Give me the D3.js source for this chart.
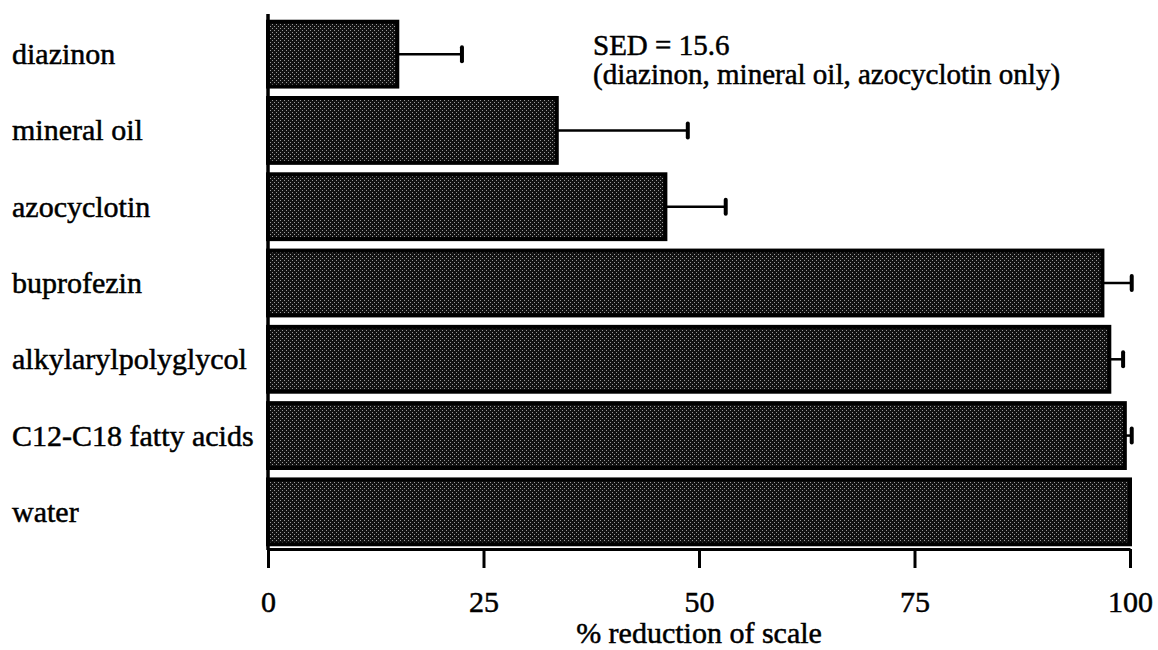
<!DOCTYPE html>
<html>
<head>
<meta charset="utf-8">
<script src="https://cdn.jsdelivr.net/npm/d3@7"></script>
<style>
  body { margin: 0; background: #fff; }
</style>
</head>
<body>
<div id="chart"></div>
<script>
const treatments = ['diazinon', 'mineral oil', 'azocyclotin', 'buprofezin',
                    'alkylarylpolyglycol', 'C12-C18 fatty acids', 'water'];
const reduction = [15.0, 33.5, 46.1, 96.8, 97.6, 99.4, 100];
const errors = [7.5, 15.2, 7.0, 3.4, 1.6, 0.8, 0];
const xTicks = [0, 25, 50, 75, 100];
const xTitle = '% reduction of scale';
const noteLines = ['SED = 15.6', '(diazinon, mineral oil, azocyclotin only)'];

const width = 1158;
const height = 650;
const serif = "'Liberation Serif', 'Times New Roman', Times, serif";

const rows = treatments.map((t, i) => ({name: t, value: reduction[i], err: errors[i]}));

const xScale = d3.scaleLinear()
                  .domain([0, 100])
                  .range([268, 1130]);

const yScale = d3.scaleBand()
                  .domain(treatments)
                  .range([16, 550])
                  .paddingInner(0.15)
                  .paddingOuter(0.075);

const svg = d3.select('#chart')
              .append('svg')
              .attr('width', width)
              .attr('height', height);

// halftone stipple like the printed bars
const pat = svg.append('defs')
  .append('pattern')
    .attr('id', 'stipple')
    .attr('patternUnits', 'userSpaceOnUse')
    .attr('width', 4)
    .attr('height', 4);
pat.append('rect').attr('width', 4).attr('height', 4).attr('fill', '#121212');
pat.append('rect').attr('x', 0).attr('y', 0).attr('width', 1).attr('height', 1).attr('fill', '#9a9a9a');
pat.append('rect').attr('x', 2).attr('y', 2).attr('width', 1).attr('height', 1).attr('fill', '#9a9a9a');

svg.selectAll('.bar')
  .data(rows)
  .enter().append('rect')
    .attr('class', 'bar')
    .attr('x', xScale(0))
    .attr('y', d => yScale(d.name))
    .attr('width', d => xScale(d.value) - xScale(0))
    .attr('height', yScale.bandwidth())
    .attr('fill', 'url(#stipple)')
    .attr('stroke', '#000')
    .attr('stroke-width', 4);

// error bars (one sided)
const errRows = rows.filter(d => d.err > 0);
const cy = d => yScale(d.name) + yScale.bandwidth() / 2;

svg.selectAll('.errline')
  .data(errRows)
  .enter().append('line')
    .attr('class', 'errline')
    .attr('x1', d => xScale(d.value))
    .attr('x2', d => xScale(d.value + d.err))
    .attr('y1', cy)
    .attr('y2', cy)
    .attr('stroke', '#000')
    .attr('stroke-width', 2.5);

svg.selectAll('.errcap')
  .data(errRows)
  .enter().append('line')
    .attr('class', 'errcap')
    .attr('x1', d => xScale(d.value + d.err))
    .attr('x2', d => xScale(d.value + d.err))
    .attr('y1', d => cy(d) - 7)
    .attr('y2', d => cy(d) + 7)
    .attr('stroke', '#000')
    .attr('stroke-width', 4)
    .attr('stroke-linecap', 'round');

// axes
const xAxis = svg.append('g')
  .attr('class', 'x axis')
  .attr('transform', 'translate(0,549)')
  .call(d3.axisBottom(xScale).tickValues(xTicks).tickSize(19).tickSizeOuter(0));
xAxis.attr('font-family', serif).attr('font-size', 30);
xAxis.select('.domain').attr('stroke-width', 3);
xAxis.selectAll('.tick line').attr('stroke-width', 3);
xAxis.selectAll('.tick text')
  .attr('dy', null)
  .attr('y', 63)
  .attr('stroke', '#000')
  .attr('stroke-width', 0.5);

const yAxis = svg.append('g')
  .attr('class', 'y axis')
  .attr('transform', 'translate(268,0)')
  .call(d3.axisLeft(yScale).tickSize(0).tickSizeOuter(0).tickFormat(''));
yAxis.select('.domain').attr('stroke-width', 3.5).attr('d', 'M0,14V550');

const txt = sel => sel
  .attr('font-family', serif)
  .attr('font-size', 30)
  .attr('fill', '#000')
  .attr('stroke', '#000')
  .attr('stroke-width', 0.5);

svg.selectAll('.label')
  .data(rows)
  .enter().append('text')
    .attr('class', 'label')
    .attr('x', 12)
    .attr('y', d => cy(d) + 10)
    .call(txt)
    .text(d => d.name);

svg.append('text')
  .attr('x', xScale(50))
  .attr('y', 643)
  .attr('text-anchor', 'middle')
  .call(txt)
  .text(xTitle);

svg.selectAll('.note')
  .data(noteLines)
  .enter().append('text')
    .attr('class', 'note')
    .attr('x', 593)
    .attr('y', (d, i) => 55 + i * 29)
    .call(txt)
    .attr('font-size', 29)
    .text(d => d);
</script>
</body>
</html>
